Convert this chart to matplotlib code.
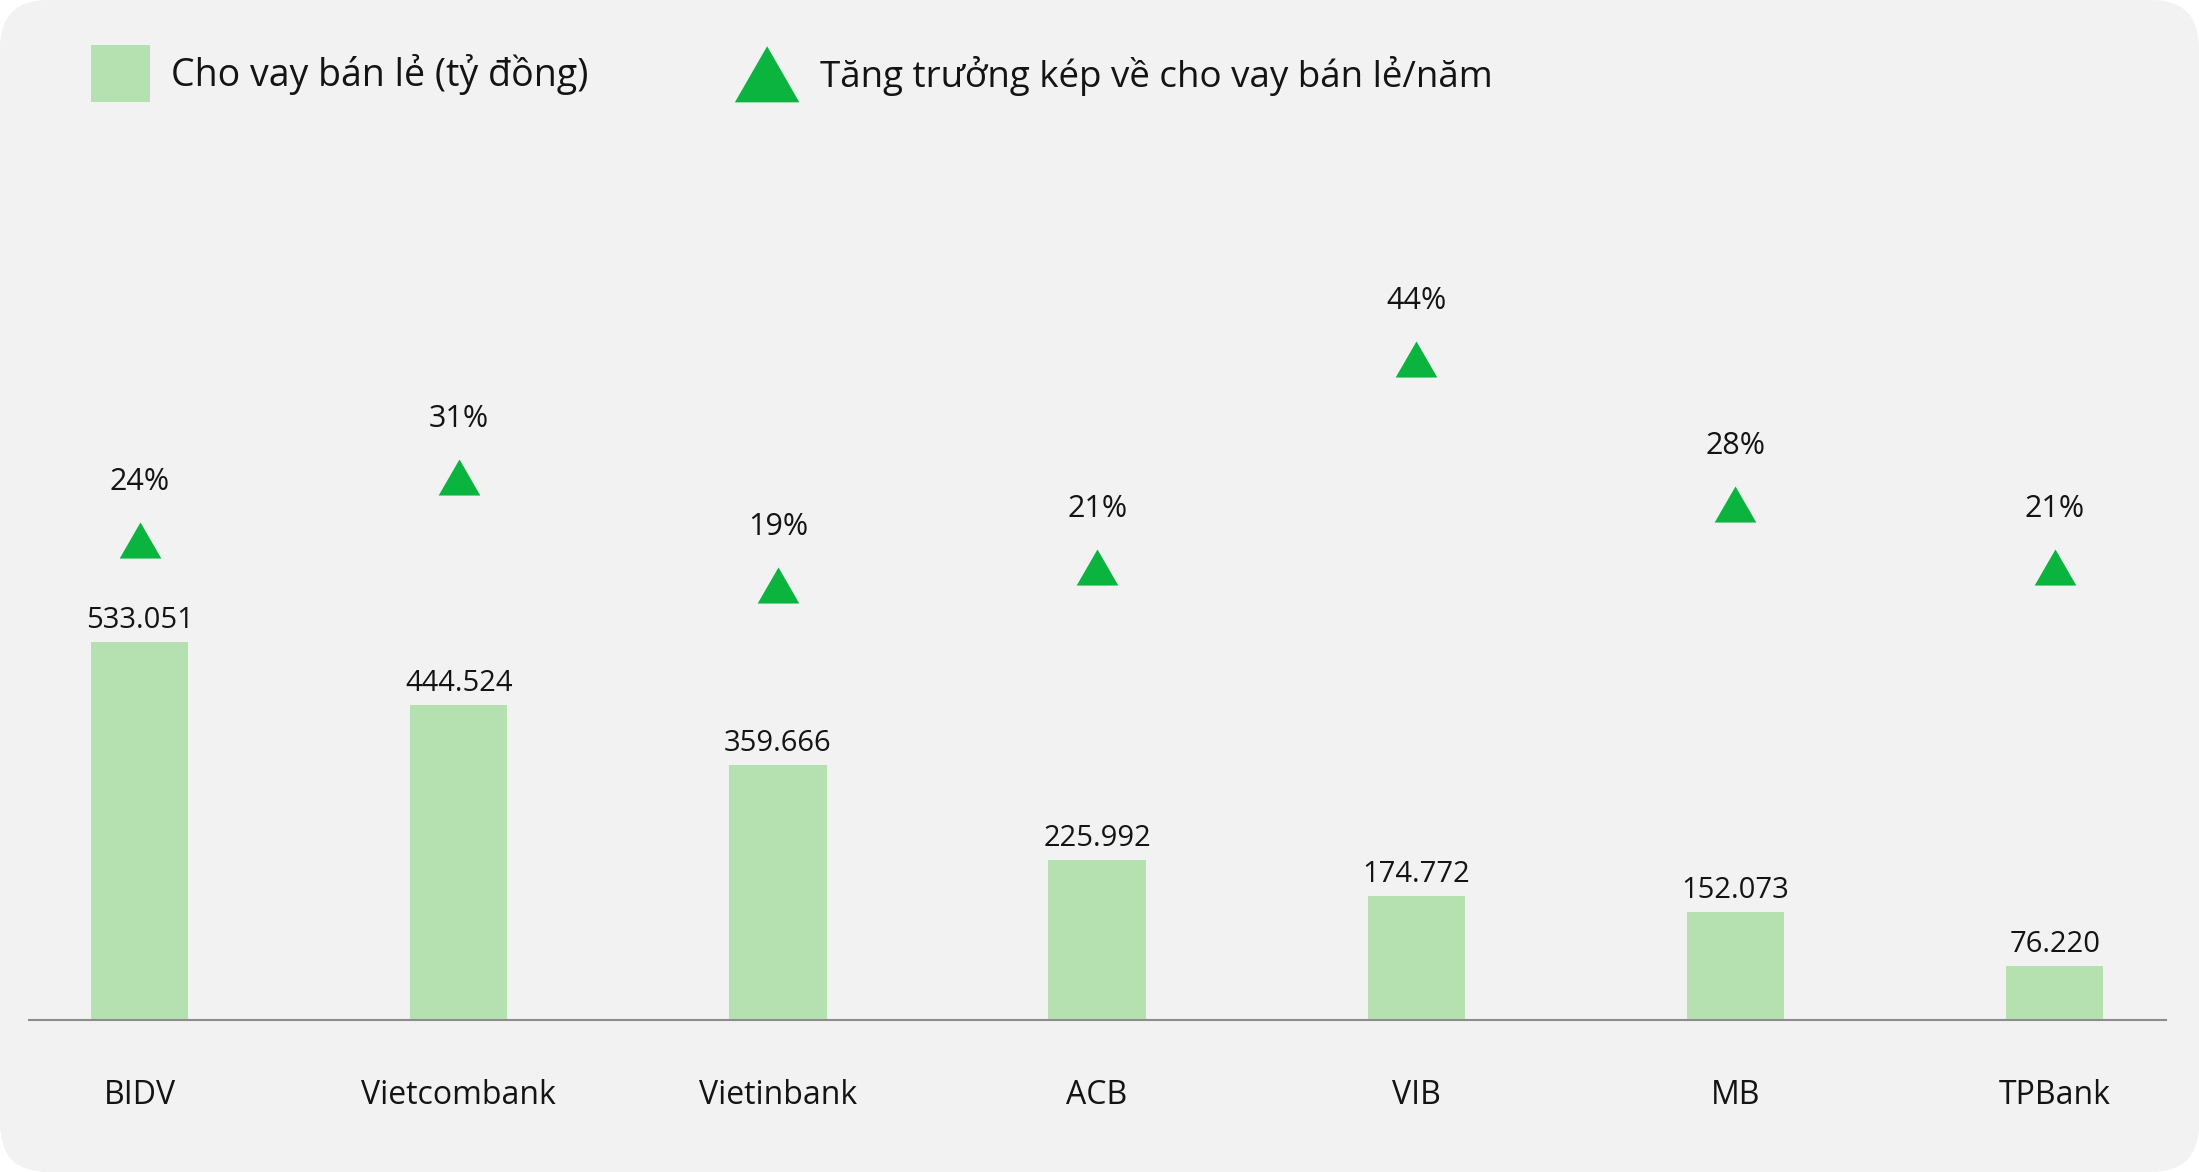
import numpy as np
import matplotlib.pyplot as plt
from matplotlib.patches import FancyBboxPatch, Rectangle, Polygon
from matplotlib.transforms import IdentityTransform

plt.rcParams['font.family'] = ['Open Sans', 'DejaVu Sans']

# data
banks = ['BIDV', 'Vietcombank', 'Vietinbank', 'ACB', 'VIB', 'MB', 'TPBank']
loans = [533.051, 444.524, 359.666, 225.992, 174.772, 152.073, 76.220]   # ty dong
growth = [24, 31, 19, 21, 44, 28, 21]                                     # % / nam

BAR = '#b5e1b1'
TRI = '#0ab43e'
BG = '#f2f2f2'
INK = '#141414'

W, H = 2199, 1172
fig = plt.figure(figsize=(W / 100, H / 100), dpi=100, facecolor='white')

# rounded grey card behind everything
card = FancyBboxPatch((0, 0), W, H, boxstyle='round,pad=0,rounding_size=48',
                      transform=IdentityTransform(), facecolor=BG,
                      edgecolor='none', zorder=-10)
fig.add_artist(card)


# layout was measured on a 1568 x 836 copy of the picture
def fx(px):
    return px / 1568


def fy(py):
    return 1 - py / 836


base_y, top_y = 727.3, 100
left_x, right_x = 20.7, 1544.5
ax = fig.add_axes([fx(left_x), fy(base_y), fx(right_x) - fx(left_x), fy(top_y) - fy(base_y)])
ax.patch.set_visible(False)

x = np.arange(len(banks))
step = 227.6
ax.bar(x, loans, width=0.305, color=BAR, zorder=2)
ax.set_xlim((left_x - 99.5) / step, (right_x - 99.5) / step)
ax.set_ylim(0, (base_y - top_y) / 0.505)

for xi, v in zip(x, loans):
    ax.annotate(f'{v:.3f}', (xi, v), xytext=(0, 10), textcoords='offset points',
                ha='center', va='baseline', fontsize=21, color=INK)

for s in ['top', 'right', 'left']:
    ax.spines[s].set_visible(False)
ax.spines['bottom'].set_color('#8c8c8c')
ax.spines['bottom'].set_linewidth(1.5)
ax.set_yticks([])
ax.set_xticks(x, banks)
ax.tick_params(axis='x', length=0, pad=61, labelsize=23, labelcolor=INK)
for lbl in ax.get_xticklabels():
    lbl.set_verticalalignment('baseline')

# growth triangles on their own scale
ax2 = ax.twinx()
ax2.patch.set_visible(False)
px_per_pct = 6.46
zero_y = 385.2 + 24 * px_per_pct
ax2.set_ylim(-(base_y - zero_y) / px_per_pct, (zero_y - top_y) / px_per_pct)
tri = [(-1, -0.866), (1, -0.866), (0, 0.866)]
ax2.plot(x, growth, ls='none', marker=tri, ms=30, color=TRI, mec='none', zorder=3)
for xi, g in zip(x, growth):
    ax2.annotate(f'{g}%', (xi, g), xytext=(0, 36), textcoords='offset points',
                 ha='center', va='baseline', fontsize=22, color=INK)
ax2.axis('off')

# legend drawn by hand at the top left
fig.add_artist(Rectangle((fx(65), fy(73)), fx(107) - fx(65), fy(32) - fy(73),
                         transform=fig.transFigure, facecolor=BAR, edgecolor='none'))
fig.text(fx(122), fy(61), 'Cho vay bán lẻ (tỷ đồng)', fontsize=27, color=INK, va='baseline')
fig.add_artist(Polygon([(fx(524), fy(73)), (fx(570), fy(73)), (fx(547), fy(33))],
                       closed=True, transform=fig.transFigure, facecolor=TRI, edgecolor='none'))
fig.text(fx(585), fy(62), 'Tăng trưởng kép về cho vay bán lẻ/năm', fontsize=26.5, color=INK, va='baseline')

fig.savefig('out.png', dpi=100, facecolor='white')
